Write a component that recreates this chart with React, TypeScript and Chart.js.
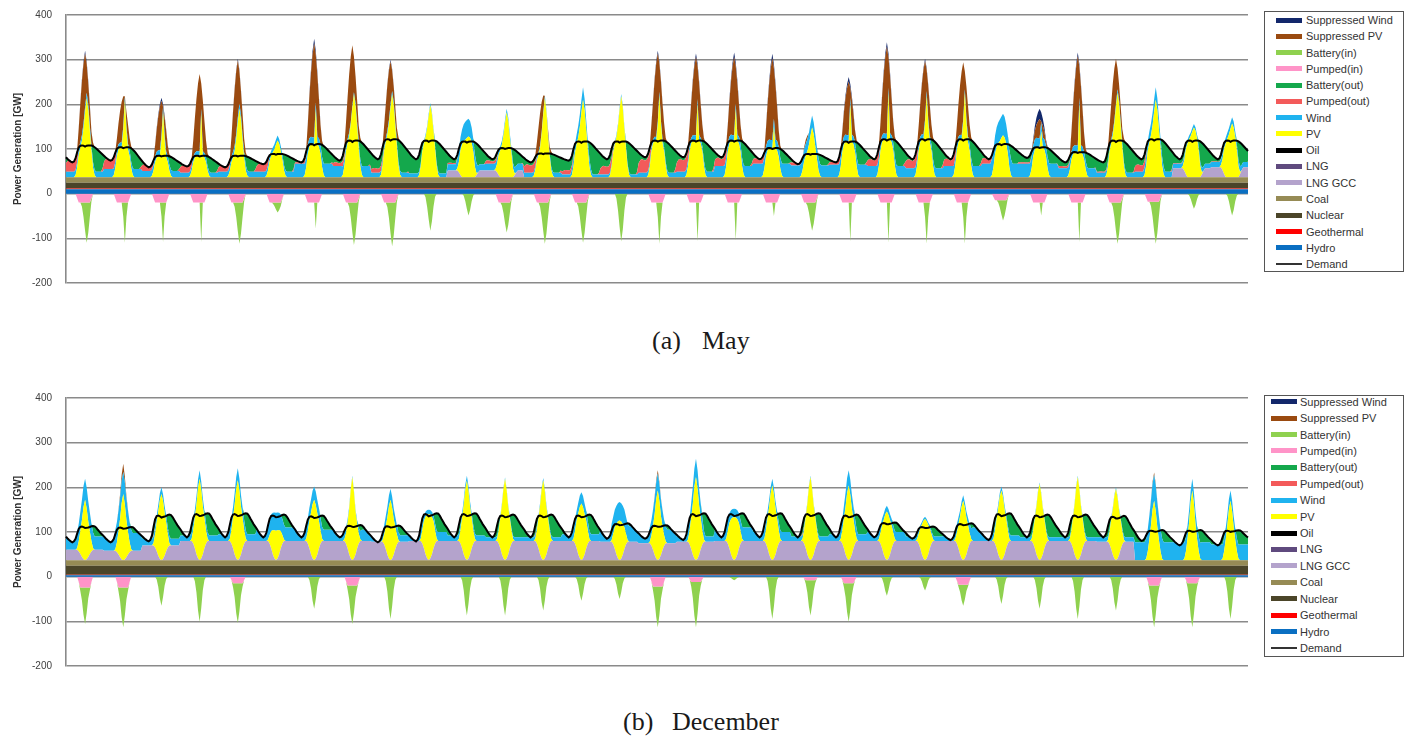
import React, { useEffect, useRef } from "react";
import { Chart, registerables } from "chart.js";

Chart.register(...registerables);

const SANS = "'Liberation Sans', Arial, sans-serif";
const SERIF = "'Liberation Serif', 'Times New Roman', serif";

// ---------------- axis ----------------
const Y_TICKS = [400, 300, 200, 100, 0, -100, -200];
const Y_TITLE = "Power Generation [GW]";

// ---------------- legend (top to bottom) ----------------
const LEGEND_ORDER = [
  "Suppressed Wind", "Suppressed PV", "Battery(in)", "Pumped(in)", "Battery(out)",
  "Pumped(out)", "Wind", "PV", "Oil", "LNG", "LNG GCC", "Coal", "Nuclear",
  "Geothermal", "Hydro", "Demand",
];

const COLORS: Record<string, string> = {
  "Suppressed Wind": "#13286b",
  "Suppressed PV": "#9a4a10",
  "Battery(in)": "#8fd14f",
  "Pumped(in)": "#ff94c8",
  "Battery(out)": "#14a84c",
  "Pumped(out)": "#f35a5a",
  "Wind": "#1fb3ef",
  "PV": "#ffff00",
  "Oil": "#000000",
  "LNG": "#5f4a7e",
  "LNG GCC": "#b4a3cc",
  "Coal": "#968b55",
  "Nuclear": "#4b4529",
  "Geothermal": "#ff0000",
  "Hydro": "#0a6fc2",
  "Demand": "#000000",
};

// =============== May: daily values [GW] ===============
// Hydro, Geothermal, Nuclear, Coal
const mayBaseload = [10, 1.5, 13, 12.5];
const mayDemandPeak = [108, 104, 85, 85, 85, 89, 111, 119, 122, 119, 117, 102, 90, 117, 117, 119, 119, 119, 102, 89, 117, 122, 122, 122, 111, 104, 93, 119, 122, 119, 119];
// early-morning minimum of each day (+ the following morning)
const mayDemandLow = [70, 74, 59, 61, 59, 66, 70, 74, 77, 77, 77, 77, 70, 74, 77, 81, 81, 81, 77, 66, 70, 77, 77, 77, 77, 80, 70, 70, 77, 77, 77, 80];
const mayPvTop = [214, 208, 182, 180, 190, 119, 189, 222, 222, 198, 128, 182, 214, 210, 218, 220, 200, 190, 150, 148, 200, 225, 220, 226, 131, 140, 200, 226, 210, 148, 157];
const mayWindNight = [12, 18, 14, 10, 12, 12, 30, 25, 10, 8, 14, 15, 10, 6, 6, 10, 12, 25, 30, 26, 28, 25, 20, 25, 30, 30, 20, 10, 12, 10, 12];
const mayWindDay = [12, 10, 12, 10, 12, 11, 15, 5, 8, 5, 40, 8, 5, 28, 5, 8, 12, 12, 18, 27, 14, 12, 10, 8, 48, 20, 15, 8, 28, 8, 14];
const mayLngGcc = [0, 0, 0, 0, 0, 0, 0, 0, 0, 0, 15, 15, 0, 0, 0, 0, 0, 0, 0, 0, 0, 0, 0, 0, 0, 0, 0, 0, 0, 20, 22];
const mayLng = [0, 0, 0, 0, 0, 0, 0, 0, 0, 0, 0, 0, 0, 0, 0, 0, 0, 0, 0, 0, 0, 0, 0, 0, 0, 0, 0, 0, 0, 0, 0];
const mayOil = [0, 0, 0, 0, 0, 0, 0, 0, 0, 0, 0, 0, 0, 0, 0, 0, 0, 0, 0, 0, 0, 0, 0, 0, 0, 0, 0, 0, 0, 0, 0];
const maySuppressedPv = [194, 104, 111, 173, 201, 0, 211, 208, 166, 0, 0, 0, 125, 0, 0, 187, 175, 175, 183, 20, 120, 195, 165, 164, 0, 43, 200, 175, 0, 0, 0];
const maySuppressedWind = [6, 0, 7, 0, 4, 0, 10, 0, 4, 0, 0, 0, 0, 0, 0, 6, 8, 10, 10, 0, 10, 10, 5, 0, 0, 23, 8, 0, 0, 0, 0];
const mayChargeDepth = [110, 110, 108, 108, 112, 42, 78, 115, 118, 83, 49, 87, 112, 110, 107, 112, 107, 105, 50, 83, 107, 110, 112, 112, 60, 49, 108, 112, 112, 34, 49];
const mayPumpedIn = [20, 20, 20, 20, 20, 20, 20, 20, 20, 0, 0, 20, 20, 20, 0, 20, 20, 20, 20, 20, 20, 20, 20, 20, 15, 20, 20, 20, 18, 0, 0];
// share of the overnight shortfall covered by pumped hydro
const mayPumpedOutShare = [1, 1, 1, 1, 1, 1, 0.6, 0.5, 0.3, 0, 0.2, 0.5, 0.7, 0.3, 0.5, 0.8, 0.8, 0.8, 0.8, 0.8, 0.8, 0.8, 0.8, 0.8, 0.8, 0.2, 0.3, 0.1, 0.5, 0.1, 0.1];
// 0 = needle, 1 = narrow, 2 = wide midday charging
const maySpikeKind = [2, 1, 1, 0, 2, 2, 0, 2, 2, 2, 2, 2, 2, 2, 2, 1, 0, 0, 0, 2, 0, 0, 1, 1, 2, 0, 0, 2, 2, 2, 2];

// May hourly profiles (0..23 h)
const mayDemandShape = [0.3, 0.2, 0.12, 0.05, 0, 0.05, 0.25, 0.6, 0.88, 0.98, 1, 0.99, 0.93, 0.98, 1, 1, 0.99, 0.95, 0.88, 0.8, 0.7, 0.6, 0.5, 0.4];
const mayPvShape = [0, 0, 0, 0, 0, 0, 0.06, 0.3, 0.7, 0.92, 1, 1, 1, 1, 1, 0.92, 0.7, 0.3, 0.06, 0, 0, 0, 0, 0];
const mayNeedle = [0, 0, 0, 0, 0, 0, 0, 0, 0, 0, 0, 0, 0, 1, 0, 0, 0, 0, 0, 0, 0, 0, 0, 0];
const mayNarrow = [0, 0, 0, 0, 0, 0, 0, 0, 0, 0, 0, 0, 0.35, 1, 0.35, 0, 0, 0, 0, 0, 0, 0, 0, 0];
const mayWide = [0, 0, 0, 0, 0, 0, 0, 0, 0, 0, 0.1, 0.35, 0.7, 1, 0.75, 0.35, 0.08, 0, 0, 0, 0, 0, 0, 0];
const mayGccShape = [1, 1, 1, 1, 1, 1, 1, 0.7, 0.3, 0, 0, 0, 0, 0, 0, 0, 0, 0, 0.3, 0.7, 1, 1, 1, 1];
const mayWindDayShare = [0, 0, 0, 0, 0, 0, 0.3, 0.5, 0.6, 0.75, 0.9, 1, 1, 1, 0.9, 0.75, 0.6, 0.5, 0.3, 0, 0, 0, 0, 0];
const mayBatteryShare = [0.4, 0.15, 0, 0, 0, 0, 0, 0.1, 0.3, 0.5, 0.5, 0.5, 0.5, 0.5, 0.5, 0.8, 1, 1, 1, 1, 1, 1, 1, 0.8];
const mayPumpShape = [0, 0, 0, 0, 0, 0, 0, 0.5, 1, 1, 1, 1, 1, 1, 1, 1, 0.5, 0, 0, 0, 0, 0, 0, 0];
const maySuppressShape = [0, 0, 0, 0, 0, 0, 0, 0.03, 0.22, 0.45, 0.68, 0.88, 1, 0.88, 0.66, 0.42, 0.2, 0.04, 0, 0, 0, 0, 0, 0];

// =============== December: daily values [GW] ===============
const decBaseload = [3, 1.5, 20, 12.5];
const decDemandPeak = [112, 110, 137, 140, 140, 137, 135, 114, 113, 140, 140, 137, 137, 137, 118, 114, 140, 140, 140, 140, 137, 120, 111, 118, 140, 137, 137, 134, 103, 103, 103];
const decDemandLow = [77, 77, 79, 88, 88, 88, 88, 88, 77, 79, 88, 88, 88, 88, 85, 85, 82, 88, 88, 88, 88, 88, 85, 82, 82, 88, 88, 88, 80, 70, 70, 75];
const decPvTop = [172, 185, 185, 219, 216, 103, 172, 223, 172, 140, 215, 219, 216, 164, 126, 193, 223, 133, 204, 223, 204, 146, 129, 170, 193, 208, 223, 197, 170, 193, 170];
const decWindNight = [30, 40, 15, 12, 15, 30, 25, 25, 15, 20, 12, 8, 8, 15, 35, 30, 12, 30, 20, 10, 15, 20, 10, 30, 12, 8, 8, 10, 40, 40, 35];
const decWindDay = [47, 50, 15, 19, 27, 40, 30, 3, 25, 10, 11, 3, 5, 25, 41, 38, 41, 19, 15, 3, 34, 13, 5, 12, 9, 3, 3, 3, 58, 26, 23];
const decLngGcc = [23, 21, 33, 43, 43, 43, 43, 43, 41, 43, 43, 43, 43, 43, 41, 38, 41, 43, 43, 43, 43, 43, 43, 43, 43, 43, 43, 41, 0, 0, 0];
const decLng = [0, 0, 0, 0, 0, 0, 0, 0, 0, 0, 0, 0, 0, 0, 0, 0, 0, 0, 0, 0, 0, 0, 0, 0, 0, 0, 0, 0, 0, 0, 0];
const decOil = [0, 0, 0, 0, 0, 0, 0, 0, 0, 0, 0, 0, 0, 0, 0, 0, 0, 0, 0, 0, 0, 0, 0, 0, 0, 0, 0, 0, 0, 0, 0];
const decSuppressedPv = [0, 93, 0, 0, 0, 0, 0, 0, 0, 0, 0, 0, 0, 0, 0, 86, 0, 0, 0, 0, 0, 0, 0, 0, 0, 0, 0, 0, 72, 0, 0];
const decSuppressedWind = [0, 0, 0, 0, 0, 0, 0, 0, 0, 0, 0, 0, 0, 0, 0, 0, 0, 0, 0, 0, 0, 0, 0, 0, 0, 0, 0, 0, 0, 0, 0];
const decChargeDepth = [106, 113, 65, 101, 104, 0, 72, 106, 95, 0, 87, 87, 76, 54, 50, 113, 113, 8, 95, 87, 101, 43, 31, 65, 61, 72, 95, 76, 113, 113, 95];
const decPumpedIn = [24, 24, 0, 0, 15, 0, 0, 20, 0, 0, 0, 0, 0, 0, 0, 22, 12, 0, 0, 8, 15, 0, 0, 18, 0, 0, 0, 0, 20, 15, 0];
const decPumpedOutShare = [0.6, 0.6, 0.3, 0, 0, 0, 0.5, 0, 0, 0, 0, 0, 0.3, 0, 0, 0, 0.5, 0, 0.5, 0.3, 0.5, 0, 0, 0, 0, 0, 0, 0, 0, 0, 0];
const decSpikeKind = [2, 2, 2, 2, 2, 2, 2, 2, 2, 2, 2, 2, 2, 2, 2, 2, 2, 2, 2, 2, 2, 2, 2, 2, 2, 2, 2, 2, 2, 2, 2];

// December hourly profiles
const decDemandShape = [0.36, 0.24, 0.14, 0.06, 0, 0.06, 0.22, 0.55, 0.85, 0.98, 1, 0.97, 0.92, 0.93, 0.95, 0.98, 1.02, 1.04, 1.02, 0.93, 0.8, 0.68, 0.56, 0.46];
const decPvShape = [0, 0, 0, 0, 0, 0, 0, 0.05, 0.3, 0.6, 0.82, 0.96, 1, 0.96, 0.82, 0.6, 0.3, 0.05, 0, 0, 0, 0, 0, 0];
const decNeedle = [0, 0, 0, 0, 0, 0, 0, 0, 0, 0, 0, 0, 1, 0, 0, 0, 0, 0, 0, 0, 0, 0, 0, 0];
const decNarrow = [0, 0, 0, 0, 0, 0, 0, 0, 0, 0, 0, 0.35, 1, 0.35, 0, 0, 0, 0, 0, 0, 0, 0, 0, 0];
const decWide = [0, 0, 0, 0, 0, 0, 0, 0, 0, 0.1, 0.35, 0.75, 1, 0.7, 0.3, 0.08, 0, 0, 0, 0, 0, 0, 0, 0];
const decGccShape = [1, 1, 1, 1, 1, 1, 1, 1, 0.85, 0.6, 0.3, 0.08, 0, 0.08, 0.3, 0.6, 0.85, 1, 1, 1, 1, 1, 1, 1];
const decWindDayShare = [0, 0, 0, 0, 0, 0, 0, 0.3, 0.55, 0.75, 0.9, 1, 1, 1, 0.9, 0.75, 0.55, 0.3, 0, 0, 0, 0, 0, 0];
const decBatteryShare = [1, 1, 1, 1, 1, 0.9, 0.7, 0.5, 0.5, 0.7, 0.8, 0.8, 0.8, 0.8, 0.9, 1, 1, 1, 1, 1, 1, 1, 1, 1];
const decPumpShape = [0, 0, 0, 0, 0, 0, 0, 0, 0.5, 1, 1, 1, 1, 1, 1, 1, 0.5, 0, 0, 0, 0, 0, 0, 0];

interface MonthInput {
  baseload: number[];
  demandPeak: number[];
  demandLow: number[];
  pvTop: number[];
  windNight: number[];
  windDay: number[];
  lngGcc: number[];
  lng: number[];
  oil: number[];
  suppressedPv: number[];
  suppressedWind: number[];
  chargeDepth: number[];
  pumpedIn: number[];
  pumpedOutShare: number[];
  spikeKind: number[];
  demandShape: number[];
  pvShape: number[];
  spikeShapes: number[][];
  gccShape: number[];
  windDayShare: number[];
  batteryShare: number[];
  pumpShape: number[];
  suppressShape: number[];
}

const MAY: MonthInput = {
  baseload: mayBaseload, demandPeak: mayDemandPeak, demandLow: mayDemandLow, pvTop: mayPvTop,
  windNight: mayWindNight, windDay: mayWindDay, lngGcc: mayLngGcc, lng: mayLng, oil: mayOil,
  suppressedPv: maySuppressedPv, suppressedWind: maySuppressedWind, chargeDepth: mayChargeDepth,
  pumpedIn: mayPumpedIn, pumpedOutShare: mayPumpedOutShare, spikeKind: maySpikeKind,
  demandShape: mayDemandShape, pvShape: mayPvShape,
  spikeShapes: [mayNeedle, mayNarrow, mayWide], gccShape: mayGccShape, windDayShare: mayWindDayShare,
  batteryShare: mayBatteryShare, pumpShape: mayPumpShape, suppressShape: maySuppressShape,
};

const DEC: MonthInput = {
  baseload: decBaseload, demandPeak: decDemandPeak, demandLow: decDemandLow, pvTop: decPvTop,
  windNight: decWindNight, windDay: decWindDay, lngGcc: decLngGcc, lng: decLng, oil: decOil,
  suppressedPv: decSuppressedPv, suppressedWind: decSuppressedWind, chargeDepth: decChargeDepth,
  pumpedIn: decPumpedIn, pumpedOutShare: decPumpedOutShare, spikeKind: decSpikeKind,
  demandShape: decDemandShape, pvShape: decPvShape,
  spikeShapes: [decNeedle, decNarrow, decWide], gccShape: decGccShape, windDayShare: decWindDayShare,
  batteryShare: decBatteryShare, pumpShape: decPumpShape, suppressShape: decWide,
};

// Expands the daily values into an hourly table for every series.
function buildMonth(m: MonthInput) {
  const t: Record<string, number[]> = {};
  for (const k of LEGEND_ORDER) t[k] = [];
  const [hydro, geo, nuclear, coal] = m.baseload;
  const baseTotal = hydro + geo + nuclear + coal;
  const days = m.demandPeak.length;
  for (let d = 0; d < days; d++) {
    for (let h = 0; h < 24; h++) {
      const lo = h <= 12 ? m.demandLow[d] : m.demandLow[d + 1];
      const hi = h <= 4 ? m.demandPeak[Math.max(0, d - 1)] : m.demandPeak[d];
      const demand = lo + (hi - lo) * m.demandShape[h];

      const gcc = m.lngGcc[d] * m.gccShape[h];
      const spike = m.spikeShapes[m.spikeKind[d]][h];
      const spikeAmt = Math.max(0, m.pvTop[d] - m.demandPeak[d]);
      const pv = m.pvShape[h] * (Math.min(m.demandPeak[d], m.pvTop[d]) - baseTotal) + spike * spikeAmt;
      const below = baseTotal + gcc + m.lng[d] + m.oil[d] + pv;
      const share = m.windDayShare[h];
      let wind = m.windNight[d] * (1 - share) + m.windDay[d] * share;
      if (pv === 0) wind = Math.min(wind, Math.max(0, demand - below));
      const gap = Math.max(0, demand - below - wind);
      const pumpOut = gap * (1 - m.batteryShare[h]) * m.pumpedOutShare[d];
      const supPv = Math.max(0, m.suppressShape[h] * m.suppressedPv[d] - spike * spikeAmt);
      const supWind = m.suppressShape[h] * m.suppressedWind[d];
      const pumpIn = m.pumpShape[h] * m.pumpedIn[d];
      const battIn = spike * Math.max(0, m.chargeDepth[d] - m.pumpedIn[d]);

      t["Demand"].push(demand);
      t["Hydro"].push(hydro);
      t["Geothermal"].push(geo);
      t["Nuclear"].push(nuclear);
      t["Coal"].push(coal);
      t["LNG GCC"].push(gcc);
      t["LNG"].push(m.lng[d]);
      t["Oil"].push(m.oil[d]);
      t["PV"].push(pv);
      t["Wind"].push(wind);
      t["Pumped(out)"].push(pumpOut);
      t["Battery(out)"].push(gap - pumpOut);
      t["Suppressed PV"].push(supPv);
      t["Suppressed Wind"].push(supWind);
      t["Pumped(in)"].push(-pumpIn);
      t["Battery(in)"].push(-battIn);
    }
  }
  return t;
}

const SUPPLY_STACK = [
  "Hydro", "Geothermal", "Nuclear", "Coal", "LNG GCC", "LNG", "Oil", "PV", "Wind",
  "Pumped(out)", "Battery(out)", "Suppressed PV", "Suppressed Wind",
];
const CHARGE_STACK = ["Pumped(in)", "Battery(in)"];

function makeChart(canvas: HTMLCanvasElement, month: MonthInput) {
  const t = buildMonth(month);
  const labels = t["Demand"].map((_, i) => String(i));
  const area = (name: string, fill: string, stack: string) => ({
    label: name,
    data: t[name],
    backgroundColor: COLORS[name],
    borderColor: COLORS[name],
    borderWidth: 0,
    pointRadius: 0,
    tension: 0,
    fill,
    stack,
  });
  const datasets: any[] = [
    {
      label: "Demand",
      data: t["Demand"],
      borderColor: COLORS["Demand"],
      borderWidth: 2,
      pointRadius: 0,
      tension: 0,
      fill: false,
      stack: "demand",
    },
    ...SUPPLY_STACK.map((n, i) => area(n, i === 0 ? "origin" : "-1", "supply")),
    ...CHARGE_STACK.map((n, i) => area(n, i === 0 ? "origin" : "-1", "charge")),
  ];

  return new Chart(canvas, {
    type: "line",
    data: { labels, datasets },
    options: {
      responsive: false,
      animation: false,
      events: [],
      layout: { padding: { top: 15, bottom: 9, left: 0, right: 4 } },
      plugins: { legend: { display: false }, tooltip: { enabled: false } },
      scales: {
        x: { display: false },
        y: {
          stacked: true,
          min: -200,
          max: 400,
          afterBuildTicks: (s: any) => {
            s.ticks = Y_TICKS.map((v) => ({ value: v }));
          },
          afterFit: (s: any) => {
            s.width = 66;
          },
          ticks: {
            color: "#404040",
            padding: 0,
            font: { family: SANS, size: 10 },
          },
          grid: {
            color: "#8a8a8a",
            lineWidth: 1.6,
            drawTicks: true,
            tickLength: 14,
            tickColor: "rgba(0,0,0,0)",
          },
          border: { display: true, color: "#8a8a8a", width: 1.6 },
          title: {
            display: true,
            text: Y_TITLE,
            color: "#303030",
            font: { family: SANS, size: 10, weight: "bold" },
            padding: { top: 12, bottom: 0 },
          },
        },
      },
    } as any,
  });
}

function Legend(props: { left: number; top: number; width: number; height: number; firstY: number; step: number; swatchX: number; textX: number }) {
  const { left, top, width, height, firstY, step, swatchX, textX } = props;
  return (
    <>
      <div
        style={{
          position: "absolute", left, top, width, height,
          border: "1.5px solid #555", boxSizing: "border-box", background: "#fff",
        }}
      />
      {LEGEND_ORDER.map((name, i) => {
        const cy = firstY + i * step;
        const isLine = name === "Demand";
        const h = isLine ? 1.5 : 5;
        return (
          <React.Fragment key={name}>
            <div
              style={{
                position: "absolute", left: swatchX, top: cy - h / 2, width: 26, height: h,
                background: isLine ? "#333" : COLORS[name],
              }}
            />
            <div
              style={{
                position: "absolute", left: textX, top: cy - 7, height: 14, lineHeight: "14px",
                fontFamily: SANS, fontSize: 11, color: "#333", whiteSpace: "nowrap",
              }}
            >
              {name}
            </div>
          </React.Fragment>
        );
      })}
    </>
  );
}

function Caption(props: { tag: string; month: string; tagX: number; monthX: number; baseline: number }) {
  const { tag, month, tagX, monthX, baseline } = props;
  const st = (x: number): React.CSSProperties => ({
    position: "absolute", left: x, top: baseline - 22, fontFamily: SERIF, fontSize: 26,
    lineHeight: "26px", color: "#1a1a1a", whiteSpace: "nowrap",
  });
  return (
    <>
      <div style={st(tagX)}>{tag}</div>
      <div style={st(monthX)}>{month}</div>
    </>
  );
}

export default function App() {
  const mayRef = useRef<HTMLCanvasElement>(null);
  const decRef = useRef<HTMLCanvasElement>(null);

  useEffect(() => {
    const charts = [makeChart(mayRef.current!, MAY), makeChart(decRef.current!, DEC)];
    return () => charts.forEach((c) => c.destroy());
  }, []);

  return (
    <div style={{ position: "absolute", left: 0, top: 0, width: 1412, height: 739, background: "#fff", overflow: "hidden" }}>
      <canvas ref={mayRef} width={1252} height={292} style={{ position: "absolute", left: 0, top: 0 }} />
      <Legend left={1264} top={11} width={140} height={261} firstY={20} step={16.27} swatchX={1276} textX={1306} />
      <Caption tag="(a)" month="May" tagX={652} monthX={702} baseline={350} />

      <canvas ref={decRef} width={1252} height={292} style={{ position: "absolute", left: 0, top: 383 }} />
      <Legend left={1264} top={395} width={140} height={262} firstY={401.7} step={16.42} swatchX={1271} textX={1300} />
      <Caption tag="(b)" month="December" tagX={623} monthX={672} baseline={731} />
    </div>
  );
}
